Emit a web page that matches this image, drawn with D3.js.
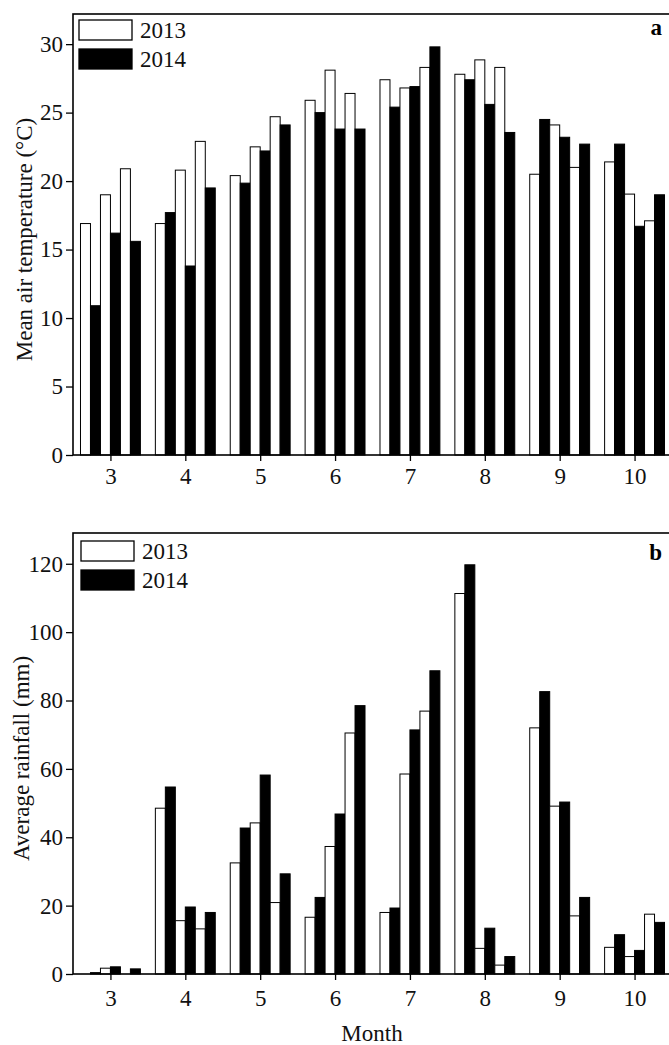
<!DOCTYPE html>
<html>
<head>
<meta charset="utf-8">
<script src="https://cdn.jsdelivr.net/npm/d3@7"></script>
<style>
  body { margin: 0; background: #fff; }
  text { font-family: "Liberation Serif", "Times New Roman", serif; }
</style>
</head>
<body>
<div id="chart"></div>
<script>
// months on the x axis, each one split in 3 ten-day periods
const months = [3, 4, 5, 6, 7, 8, 9, 10]
const dekads = [0, 1, 2]
const years = ['2013', '2014']

// mean air temperature (°C), one value per ten-day period, march -> october
const temp2013 = [16.9, 19.0, 20.9, 16.9, 20.8, 22.9, 20.4, 22.5, 24.7, 25.9, 28.1, 26.4,
                  27.4, 26.8, 28.3, 27.8, 28.85, 28.3, 20.5, 24.1, 21.0, 21.4, 19.05, 17.1]
const temp2014 = [10.9, 16.2, 15.6, 17.7, 13.8, 19.5, 19.85, 22.2, 24.1, 25.0, 23.8, 23.8,
                  25.4, 26.9, 29.8, 27.4, 25.6, 23.55, 24.5, 23.2, 22.7, 22.7, 16.7, 19.0]

// average rainfall (mm)
const rain2013 = [0, 1.7, 0, 48.5, 15.6, 13.2, 32.5, 44.2, 20.9, 16.6, 37.3, 70.5,
                  18.0, 58.5, 76.9, 111.3, 7.5, 2.6, 72.0, 49.1, 17.0, 7.8, 5.1, 17.5]
const rain2014 = [0.4, 2.1, 1.5, 54.7, 19.6, 18.0, 42.7, 58.2, 29.3, 22.4, 46.8, 78.5,
                  19.3, 71.4, 88.7, 119.7, 13.4, 5.1, 82.6, 50.3, 22.4, 11.5, 6.9, 15.1]

// tick labels
const tempTicks = [0, 5, 10, 15, 20, 25, 30]
const rainTicks = [0, 20, 40, 60, 80, 100, 120]

const width = 669
const height = 1045

const svg = d3.select('div#chart').append('svg')
  .attr('width', width)
  .attr('height', height)

// x scale shared by both panels (month units), right edge runs past the picture
const xScale = d3.scaleLinear().domain([2.5, 10.5]).range([73, 672])

// slot inside a month: dekad * 2 + year index
const slotScale = d3.scaleBand()
  .domain(d3.range(dekads.length * years.length))
  .range([-0.4, 0.4])

function rows(v2013, v2014) {
  const out = []
  months.forEach((m, i) => {
    dekads.forEach(d => {
      out.push({ month: m, slot: d * 2, year: '2013', value: v2013[i * 3 + d] })
      out.push({ month: m, slot: d * 2 + 1, year: '2014', value: v2014[i * 3 + d] })
    })
  })
  return out
}

function drawPanel(opts) {
  const g = svg.append('g')
  const yScale = d3.scaleLinear().domain(opts.domain).range([opts.bottom, opts.top])
  const data = rows(opts.v2013, opts.v2014)

  // bars
  g.selectAll('rect.bar').data(data)
    .enter()
    .append('rect')
    .attr('class', 'bar')
    .attr('x', d => xScale(d.month + slotScale(d.slot)))
    .attr('width', xScale(2.5 + slotScale.bandwidth()) - xScale(2.5))
    .attr('y', d => yScale(d.value))
    .attr('height', d => yScale(0) - yScale(d.value))
    .attr('fill', d => d.year === '2013' ? '#fff' : '#000')
    .attr('stroke', '#000')
    .attr('stroke-width', 1)

  // axes
  const xAxis = d3.axisBottom(xScale).tickValues(months).tickSize(6)
    .tickPadding(opts.xPad).tickSizeOuter(0).tickFormat(d3.format('d'))
  const yAxis = d3.axisLeft(yScale).tickValues(opts.ticks).tickSize(7)
    .tickPadding(3).tickSizeOuter(0)

  const gx = g.append('g')
    .attr('transform', 'translate(0 ' + opts.bottom + ')')
    .call(xAxis)
  const gy = g.append('g')
    .attr('transform', 'translate(' + xScale.range()[0] + ' 0)')
    .call(yAxis)
  ;[gx, gy].forEach(a => {
    a.select('.domain').remove()
    a.selectAll('line').attr('stroke', '#000').attr('stroke-width', 1.3)
    a.selectAll('text').attr('font-size', 23).attr('fill', '#111')
      .attr('font-family', '"Liberation Serif", "Times New Roman", serif')
  })

  // frame
  g.append('rect')
    .attr('x', xScale.range()[0])
    .attr('y', opts.top)
    .attr('width', xScale.range()[1] - xScale.range()[0])
    .attr('height', opts.bottom - opts.top)
    .attr('fill', 'none')
    .attr('stroke', '#000')
    .attr('stroke-width', 1.6)

  // legend
  const lx = xScale.range()[0] + opts.legendOffset
  years.forEach((yr, i) => {
    const ly = opts.top + opts.legendOffset + i * 29
    g.append('rect')
      .attr('x', lx).attr('y', ly)
      .attr('width', 53).attr('height', 20)
      .attr('fill', yr === '2013' ? '#fff' : '#000')
      .attr('stroke', '#000').attr('stroke-width', 1.3)
    g.append('text')
      .attr('x', lx + 61).attr('y', ly + 10)
      .attr('dy', '0.35em')
      .attr('font-size', 23)
      .attr('fill', '#111')
      .text(yr)
  })

  // panel letter
  g.append('text')
    .attr('x', 662).attr('y', opts.top + opts.letterY)
    .attr('text-anchor', 'end')
    .attr('font-size', 23)
    .attr('font-weight', 'bold')
    .text(opts.letter)

  // y label
  const cy = (opts.top + opts.bottom) / 2 + 5
  g.append('text')
    .attr('transform', 'translate(' + opts.labelX + ' ' + cy + ') rotate(-90)')
    .attr('text-anchor', 'middle')
    .attr('font-size', 23)
    .attr('fill', '#111')
    .text(opts.label)
}

drawPanel({
  domain: [0, 32.2], top: 14, bottom: 455, ticks: tempTicks,
  v2013: temp2013, v2014: temp2014, xPad: 7, legendOffset: 6,
  letter: 'a', letterY: 21, labelX: 32, label: 'Mean air temperature (°C)'
})

drawPanel({
  domain: [0, 129], top: 533, bottom: 974, ticks: rainTicks,
  v2013: rain2013, v2014: rain2014, xPad: 10, legendOffset: 8,
  letter: 'b', letterY: 27, labelX: 29, label: 'Average rainfall (mm)'
})

// shared x label
svg.append('text')
  .attr('x', 372).attr('y', 1041)
  .attr('text-anchor', 'middle')
  .attr('font-size', 23)
  .attr('fill', '#111')
  .text('Month')
</script>
</body>
</html>
